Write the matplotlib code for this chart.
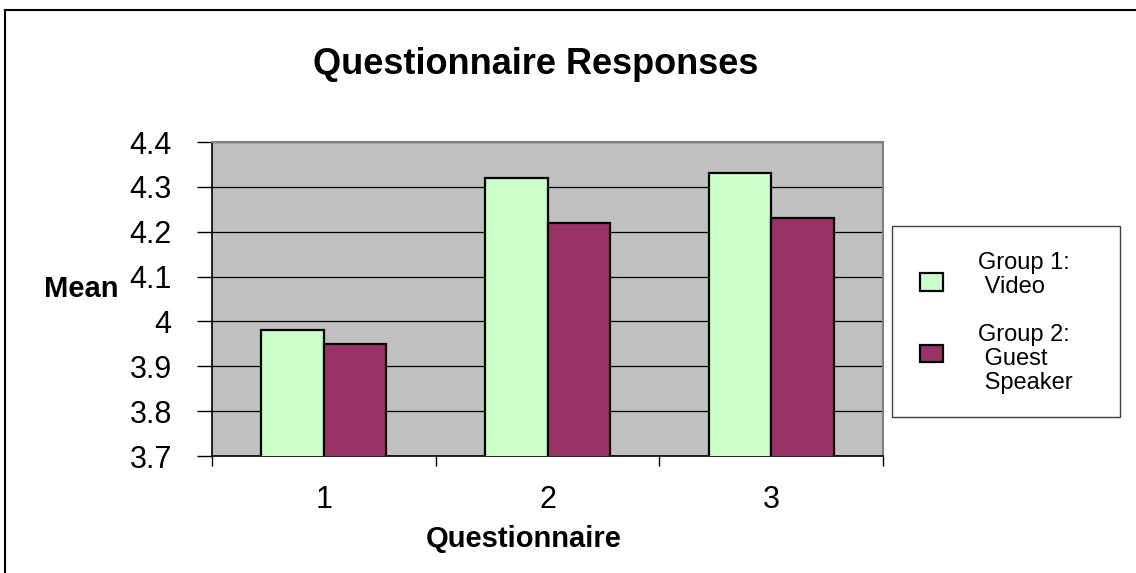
import matplotlib
matplotlib.use("Agg")
import matplotlib.pyplot as plt
import numpy as np
from matplotlib.patches import Rectangle
from matplotlib.lines import Line2D

plt.rcParams['font.family'] = ['Liberation Sans', 'DejaVu Sans']

categories = ["1", "2", "3"]
group1_video = [3.98, 4.32, 4.33]
group2_speaker = [3.95, 4.22, 4.23]
series_labels = ["Group 1:\n Video", "Group 2:\n Guest\n Speaker"]
y_ticks = [3.7, 3.8, 3.9, 4.0, 4.1, 4.2, 4.3, 4.4]
y_tick_labels = ["3.7", "3.8", "3.9", "4", "4.1", "4.2", "4.3", "4.4"]
colors = ["#CCFFCC", "#993366"]

W, H = 1136, 573
fig = plt.figure(figsize=(W / 100, H / 100), dpi=100)

def fx(px):
    return px / W

def fy(py):
    return 1 - py / H

ax = fig.add_axes([fx(212), fy(456), fx(883) - fx(212), fy(142) - fy(456)])
ax.set_facecolor("#C0C0C0")

x = np.arange(len(categories))
bw = 0.28
ax.bar(x - bw / 2, group1_video, bw, color=colors[0], edgecolor="black", linewidth=1.6, zorder=3)
ax.bar(x + bw / 2, group2_speaker, bw, color=colors[1], edgecolor="black", linewidth=1.6, zorder=3)

ax.set_xlim(-0.5, len(categories) - 0.5)
ax.set_ylim(3.7, 4.4)
ax.set_yticks(y_ticks)
ax.set_yticklabels(y_tick_labels, fontsize=22)
ax.set_xticks(x)
ax.set_xticklabels(categories, fontsize=22)
ax.set_xticks(np.arange(len(categories) + 1) - 0.5, minor=True)
ax.tick_params(axis="x", which="major", length=0, pad=21)
ax.tick_params(axis="x", which="minor", length=7, width=1, color="black", direction="out")
ax.tick_params(axis="y", which="major", length=11, width=1, color="black", direction="out", pad=18)
ax.yaxis.grid(True, color="black", linewidth=0.9)
ax.set_axisbelow(True)

for side in ["left", "bottom"]:
    ax.spines[side].set_color("black")
    ax.spines[side].set_linewidth(1.2)
for side in ["top", "right"]:
    ax.spines[side].set_color("#808080")
    ax.spines[side].set_linewidth(1.5)

fig.text(fx(536), fy(64), "Questionnaire Responses", fontsize=26, fontweight="bold",
         ha="center", va="center")
fig.text(fx(118), fy(289), "Mean", fontsize=21, fontweight="bold", ha="right", va="center")
fig.text(fx(524), fy(539), "Questionnaire", fontsize=21, fontweight="bold", ha="center", va="center")

# legend
fig.add_artist(Rectangle((fx(892), fy(417)), fx(1120) - fx(892), fy(226) - fy(417),
                         transform=fig.transFigure, facecolor="white", edgecolor="#404040",
                         linewidth=1.0))
handle_y = [(273, 291), (345, 362)]
text_y = [275, 359]
for i in range(2):
    y0, y1 = handle_y[i]
    fig.add_artist(Rectangle((fx(920), fy(y1)), fx(943) - fx(920), fy(y0) - fy(y1),
                             transform=fig.transFigure, facecolor=colors[i],
                             edgecolor="black", linewidth=1.6))
    fig.text(fx(978), fy(text_y[i]), series_labels[i], fontsize=17, ha="left", va="center",
             linespacing=1.12)

# outer frame
fig.add_artist(Line2D([fx(5), fx(5)], [fy(10), 0], transform=fig.transFigure, color="black", linewidth=1.5))
fig.add_artist(Line2D([fx(5), 1], [fy(10), fy(10)], transform=fig.transFigure, color="black", linewidth=1.5))

fig.savefig("out.png", dpi=100)
